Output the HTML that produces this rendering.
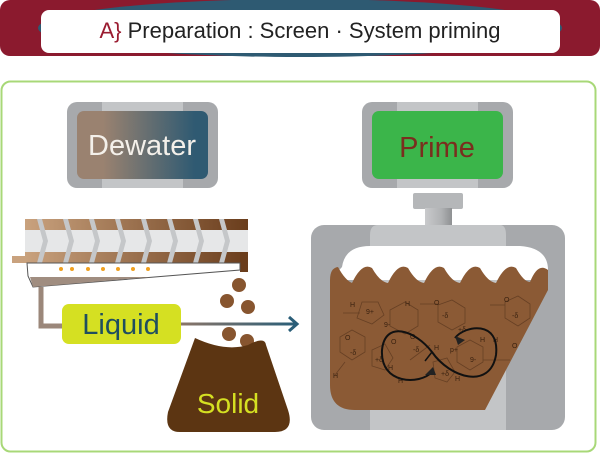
<!DOCTYPE html>
<html><head><meta charset="utf-8"><style>
html,body{margin:0;padding:0;background:#fff;}
svg{display:block;}
text{font-family:"Liberation Sans","DejaVu Sans",sans-serif;}
</style></head><body>
<svg width="600" height="454" viewBox="0 0 600 454" xmlns="http://www.w3.org/2000/svg">
<defs>
<linearGradient id="dw" x1="0" x2="1" y1="0" y2="0">
<stop offset="0.2" stop-color="#9a8270"/><stop offset="0.9" stop-color="#2f5a72"/></linearGradient>
<linearGradient id="arr" gradientUnits="userSpaceOnUse" x1="181" y1="0" x2="296" y2="0"><stop offset="0" stop-color="#8a7568"/><stop offset="1" stop-color="#2a5e78"/></linearGradient>
<linearGradient id="cap" x1="0" x2="1"><stop offset="0" stop-color="#c9cacc"/><stop offset="0.6" stop-color="#b0b2b4"/><stop offset="1" stop-color="#8e9092"/></linearGradient>
<linearGradient id="screw" x1="0" x2="1"><stop offset="0" stop-color="#c9a27e"/><stop offset="1" stop-color="#6a3d1c"/></linearGradient>
</defs>
<!-- header -->
<rect x="0" y="0" width="600" height="56" rx="10" fill="#8b1a2e"/>
<ellipse cx="300" cy="28" rx="262" ry="29" fill="#2e5a72"/>
<rect x="41" y="10" width="519" height="43" rx="8" fill="#fff"/>
<text x="300" y="38" font-size="22" text-anchor="middle" fill="#222"><tspan fill="#9a1b30">A}</tspan> Preparation : Screen · System priming</text>
<!-- panel -->
<rect x="1.5" y="81.5" width="594" height="370" rx="9" fill="#fff" stroke="#a8d878" stroke-width="2"/>
<!-- Dewater -->
<rect x="67" y="102" width="151" height="86" rx="10" fill="#a7a9ac"/>
<rect x="102" y="102" width="81" height="86" fill="#c3c5c7"/>
<rect x="77" y="111" width="131" height="68" rx="7" fill="url(#dw)"/>
<text x="142" y="155" font-size="29" text-anchor="middle" fill="#f4f0ea">Dewater</text>
<!-- Prime -->
<rect x="362" y="102" width="151" height="86" rx="10" fill="#a7a9ac"/>
<rect x="397" y="102" width="81" height="86" fill="#c3c5c7"/>
<rect x="372" y="111" width="131" height="68" rx="7" fill="#3bb54a"/>
<text x="437" y="157" font-size="29" text-anchor="middle" fill="#7a2e1e">Prime</text>
<!-- screw conveyor -->
<rect x="12" y="256" width="15" height="7" fill="#c9a27e"/>
<rect x="25" y="219" width="223" height="44" fill="url(#screw)"/>
<rect x="25" y="230" width="223" height="22" fill="#e6e7e8"/>
<g fill="#c5c7c9">
<polygon points="37,219 42,219 48,241 42,263 37,263 43,241"/>
<polygon points="63,219 68,219 74,241 68,263 63,263 69,241"/>
<polygon points="89,219 94,219 100,241 94,263 89,263 95,241"/>
<polygon points="115,219 120,219 126,241 120,263 115,263 121,241"/>
<polygon points="141,219 146,219 152,241 146,263 141,263 147,241"/>
<polygon points="167,219 172,219 178,241 172,263 167,263 173,241"/>
<polygon points="193,219 198,219 204,241 198,263 193,263 199,241"/>
<polygon points="219,219 224,219 230,241 224,263 219,263 225,241"/>
</g>
<rect x="240" y="252" width="8" height="20" fill="#6a3d1c"/>
<polygon points="27,263 240,263 240,270 33,287 28,276" fill="#fff" stroke="#555" stroke-width="1"/>
<polygon points="30,277 150,277 33,287" fill="#a08d80"/>
<g fill="#f0a020">
<circle cx="61" cy="269" r="2"/><circle cx="72" cy="269" r="2"/><circle cx="88" cy="269" r="2"/><circle cx="103" cy="269" r="2"/><circle cx="118" cy="269" r="2"/><circle cx="133" cy="269" r="2"/><circle cx="148" cy="269" r="2"/>
</g>
<path d="M41,287 V326 H64" fill="none" stroke="#9b877a" stroke-width="5"/>
<rect x="181" y="322.5" width="115" height="3" fill="url(#arr)"/>
<polyline points="289,317 297,324 289,331" fill="none" stroke="#2a5e78" stroke-width="3"/>
<rect x="62" y="304" width="119" height="40" rx="7" fill="#d5e022"/>
<text x="121" y="334" font-size="29" text-anchor="middle" fill="#1f4e5f">Liquid</text>
<!-- balls -->
<g fill="#87552f">
<circle cx="239" cy="285" r="7"/><circle cx="227" cy="301" r="7"/><circle cx="248" cy="307" r="7"/><circle cx="229" cy="334" r="7"/><circle cx="247" cy="341" r="7"/>
</g>
<!-- sack -->
<path d="M195,338 Q225,352 248,345 Q265,336 266,345 L288,410 Q295,432 275,432 L180,432 Q164,432 168,412 Z" fill="#5c3512"/>
<text x="228" y="413" font-size="28" text-anchor="middle" fill="#d5e022">Solid</text>
<!-- tank -->
<rect x="413" y="193" width="50" height="16" rx="2" fill="#b5b7b9"/>
<rect x="425" y="208" width="27" height="18" fill="url(#cap)"/>
<rect x="311" y="225" width="254" height="205" rx="13" fill="#a7a9ac"/>
<path d="M378,225 H500 Q506,225 506,235 V430 H370 V235 Q370,225 378,225Z" fill="#c3c5c7"/>
<path d="M342,267 Q345,246 370,246 H520 Q548,248 548,270 L548,280 L330,280 Z" fill="#fff"/>
<path d="M330,280 Q330,268 338,267 Q345,280 352,283 Q362,262 372,268 Q380,282 388,283 Q398,262 408,268 Q416,282 424,283 Q434,262 444,268 Q452,282 460,283 Q470,262 480,268 Q488,282 496,283 Q506,262 516,268 Q524,282 530,282 Q538,262 548,270 L548,290 L485,410 H355 Q330,410 330,385 Z" fill="#8b5a35"/>
<!-- molecules -->
<g fill="none" stroke="#5e3a20" stroke-width="0.8" opacity="0.8">
<polygon points="362,302 378,302 384,315 372,324 357,318"/>
<polygon points="390,310 405,302 418,310 418,326 405,334 390,326"/>
<polygon points="438,305 452,300 465,308 465,323 452,330 438,322"/>
<polygon points="505,302 518,296 530,304 530,318 518,326 505,318"/>
<polygon points="340,337 352,330 365,337 365,352 352,360 340,352"/>
<polygon points="372,350 385,344 393,358 385,370 372,366"/>
<polygon points="457,347 470,340 483,347 483,362 470,370 457,362"/>
<polygon points="433,362 447,358 455,372 447,382 435,378"/>
<line x1="343" y1="313" x2="360" y2="313"/><line x1="420" y1="304" x2="438" y2="304"/>
<line x1="490" y1="305" x2="505" y2="305"/><line x1="410" y1="360" x2="430" y2="345"/>
<line x1="483" y1="360" x2="510" y2="360"/><line x1="335" y1="375" x2="345" y2="362"/>
</g>
<g font-size="7" fill="#3a2210">
<text x="350" y="307">H</text><text x="366" y="314">9+</text><text x="405" y="306">H</text><text x="434" y="305">O</text>
<text x="442" y="318">-δ</text><text x="504" y="302">O</text><text x="512" y="318">-δ</text><text x="384" y="327">9-</text>
<text x="345" y="340">O</text><text x="350" y="355">-δ</text><text x="375" y="362">+δ</text><text x="388" y="370">H</text>
<text x="413" y="352">-δ</text><text x="410" y="339">O</text><text x="434" y="350">H</text><text x="450" y="352">p+</text>
<text x="470" y="362">9-</text><text x="441" y="376">+δ</text><text x="455" y="381">H</text><text x="480" y="342">H</text>
<text x="493" y="342">H</text><text x="512" y="348">O</text><text x="333" y="378">H</text><text x="398" y="383">H</text>
<text x="458" y="332">+δ</text><text x="391" y="344">O</text>
</g>
<!-- infinity -->
<path d="M432,352 C415,330 385,320 382,350 C380,385 420,385 432,372 M432,352 C450,378 490,390 496,355 C500,320 465,325 455,338" fill="none" stroke="#111" stroke-width="2"/>
<path d="M432,352 L425,361" stroke="#111" stroke-width="1.5"/>
<polygon points="433,367 425,375 436,375" fill="#222"/>
<polygon points="455,336 458,345 465,340" fill="#222"/>
</svg>
</body></html>
